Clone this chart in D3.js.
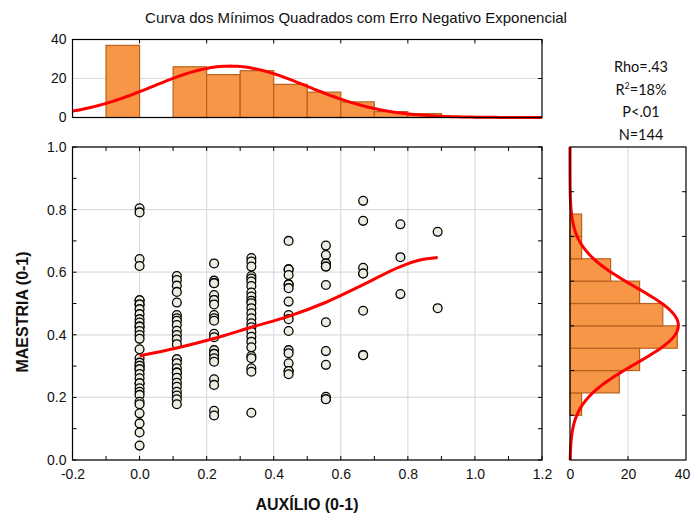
<!DOCTYPE html>
<html>
<head>
<meta charset="utf-8">
<script src="https://cdn.jsdelivr.net/npm/d3@7"></script>
<style>
  html, body { margin: 0; padding: 0; background: #fff; }
  svg { display: block; font-family: "Liberation Sans", Arial, sans-serif; }
</style>
</head>
<body>
<svg id="chart" width="696" height="515"></svg>
<script>
// AUXÍLIO values (x) are in ninths; each column lists the MAESTRIA values observed there.
const auxLevels = [0, 1/9, 2/9, 3/9, 4/9, 5/9, 6/9, 7/9, 8/9];
const maestriaByLevel = [
  [0.804, 0.791, 0.642, 0.620, 0.510, 0.510, 0.497, 0.497, 0.482, 0.466, 0.450, 0.439, 0.426, 0.426,
   0.412, 0.399, 0.387, 0.354, 0.325, 0.311, 0.301, 0.301, 0.290, 0.290, 0.275, 0.261, 0.245, 0.245,
   0.229, 0.218, 0.208, 0.186, 0.178, 0.149, 0.117, 0.088, 0.046],
  [0.588, 0.575, 0.557, 0.537, 0.503, 0.463, 0.453, 0.445, 0.431, 0.413, 0.399, 0.386, 0.370,
   0.322, 0.322, 0.309, 0.293, 0.279, 0.279, 0.263, 0.247, 0.234, 0.218, 0.206, 0.194, 0.178],
  [0.628, 0.573, 0.565, 0.565, 0.527, 0.511, 0.511, 0.497, 0.463, 0.453, 0.445, 0.403, 0.392,
   0.351, 0.339, 0.339, 0.325, 0.314, 0.258, 0.240, 0.157, 0.142],
  [0.645, 0.634, 0.618, 0.588, 0.580, 0.570, 0.556, 0.535, 0.522, 0.509, 0.501, 0.485, 0.469,
   0.453, 0.437, 0.424, 0.410, 0.394, 0.378, 0.360, 0.332, 0.325, 0.293, 0.282, 0.151],
  [0.700, 0.609, 0.609, 0.591, 0.561, 0.561, 0.549, 0.506, 0.463, 0.450, 0.412, 0.351, 0.341,
   0.309, 0.284, 0.284, 0.274],
  [0.685, 0.655, 0.628, 0.628, 0.618, 0.618, 0.559, 0.440, 0.348, 0.304, 0.202, 0.194, 0.194],
  [0.828, 0.764, 0.614, 0.596, 0.596, 0.477, 0.335, 0.335],
  [0.753, 0.648, 0.530],
  [0.729, 0.485]
];

// Negative-exponentially weighted least-squares smooth
const smoothX = [0, 0.111, 0.222, 0.333, 0.444, 0.556, 0.667, 0.778, 0.833, 0.889];
const smoothY = [0.333, 0.358, 0.388, 0.424, 0.459, 0.504, 0.560, 0.618, 0.638, 0.647];

// Marginal histogram of AUXÍLIO: bins of 0.1 starting at -0.1
const auxBinStart = -0.1;
const auxBinWidth = 0.1;
const auxCounts = [37, 0, 26, 22, 24, 17, 13, 8, 3, 2];
const auxFit = { mean: 0.27, sd: 0.23 };

// Marginal histogram of MAESTRIA: bins of 1/14 starting at 2/14
const maeBinStart = 2 / 14;
const maeBinWidth = 1 / 14;
const maeCounts = [4, 17, 24, 37, 32, 24, 14, 4, 4];
const maeFit = { mean: 0.43, sd: 0.122 };

const xTickLabels = ["-0.2", "0.0", "0.2", "0.4", "0.6", "0.8", "1.0", "1.2"];
const yTickLabels = ["0.0", "0.2", "0.4", "0.6", "0.8", "1.0"];
const topCountTicks = [0, 20, 40];
const sideCountTicks = [0, 20, 40];
const statsLines = ["Rho=.43", "R²=18%", "P<.01", "N=144"];
const titleText = "Curva dos Mínimos Quadrados com Erro Negativo Exponencial";
const xTitle = "AUXÍLIO (0-1)";
const yTitle = "MAESTRIA (0-1)";

const svg = d3.select("#chart");
const GRID = "#dcdcdc", BAR = "#f79646", BAR_EDGE = "#b9621f", RED = "#ff0000";

// Panels
const mainP = { l: 72.5, r: 542, t: 147, b: 460 };
const topP = { l: 72.5, r: 542, t: 39.5, b: 117.5 };
const sideP = { l: 570, r: 686, t: 147, b: 460 };

const x = d3.scaleLinear().domain([-0.2, 1.2]).range([mainP.l, mainP.r]);
const y = d3.scaleLinear().domain([0, 1]).range([mainP.b, mainP.t]);
const yTop = d3.scaleLinear().domain([0, 40]).range([topP.b, topP.t]);
const xSide = d3.scaleLinear().domain([0, 40]).range([sideP.l, sideP.r]);

function normalCurve(fit, counts, binWidth, v) {
  const n = d3.sum(counts);
  const z = (v - fit.mean) / fit.sd;
  return n * binWidth / (fit.sd * Math.sqrt(2 * Math.PI)) * Math.exp(-0.5 * z * z);
}

function styleLabels(g) {
  g.select(".domain").remove();
  g.selectAll("text").attr("font-size", 14).attr("fill", "#111")
    .attr("font-family", "Liberation Sans, Arial, sans-serif");
}

// ---------- main scatter panel ----------
const gMain = svg.append("g");
gMain.append("g").selectAll("line").data(xTickLabels.map(Number))
  .join("line").attr("x1", d => x(d)).attr("x2", d => x(d))
  .attr("y1", mainP.t).attr("y2", mainP.b).attr("stroke", GRID).attr("stroke-width", 1.2);
gMain.append("g").selectAll("line").data(yTickLabels.map(Number))
  .join("line").attr("y1", d => y(d)).attr("y2", d => y(d))
  .attr("x1", mainP.l).attr("x2", mainP.r).attr("stroke", GRID).attr("stroke-width", 1.2);

const minorX = d3.range(-0.2, 1.2001, 0.1);
const minorY = d3.range(0, 1.0001, 0.1);

// inward ticks on all four sides
const ticksMain = gMain.append("g").attr("stroke", "#000").attr("stroke-width", 1);
ticksMain.append("g").selectAll("line").data(minorX).join("line")
  .attr("x1", d => x(d)).attr("x2", d => x(d)).attr("y1", mainP.b).attr("y2", mainP.b - 4);
ticksMain.append("g").selectAll("line").data(minorX).join("line")
  .attr("x1", d => x(d)).attr("x2", d => x(d)).attr("y1", mainP.t).attr("y2", mainP.t + 4);
ticksMain.append("g").selectAll("line").data(minorY).join("line")
  .attr("y1", d => y(d)).attr("y2", d => y(d)).attr("x1", mainP.l).attr("x2", mainP.l + 4);
ticksMain.append("g").selectAll("line").data(minorY).join("line")
  .attr("y1", d => y(d)).attr("y2", d => y(d)).attr("x1", mainP.r).attr("x2", mainP.r - 4);

gMain.append("rect").attr("x", mainP.l).attr("y", mainP.t)
  .attr("width", mainP.r - mainP.l).attr("height", mainP.b - mainP.t)
  .attr("fill", "none").attr("stroke", "#000").attr("stroke-width", 1.2);

svg.append("g").attr("transform", `translate(0,${mainP.b})`)
  .call(d3.axisBottom(x).tickValues(xTickLabels.map(Number))
    .tickFormat((d, i) => xTickLabels[i]).tickSize(0).tickPadding(9))
  .call(styleLabels);
svg.append("g").attr("transform", `translate(${mainP.l},0)`)
  .call(d3.axisLeft(y).tickValues(yTickLabels.map(Number))
    .tickFormat((d, i) => yTickLabels[i]).tickSize(0).tickPadding(6))
  .call(styleLabels);

// points
const points = auxLevels.flatMap((a, i) => maestriaByLevel[i].map(m => ({ a, m })));
gMain.append("g").selectAll("circle").data(points).join("circle")
  .attr("cx", d => x(d.a)).attr("cy", d => y(d.m)).attr("r", 4.4)
  .attr("fill", "#eeece0").attr("stroke", "#000").attr("stroke-width", 1.3);

// smooth curve
gMain.append("path")
  .datum(smoothX.map((v, i) => [v, smoothY[i]]))
  .attr("d", d3.line().x(d => x(d[0])).y(d => y(d[1])).curve(d3.curveMonotoneX))
  .attr("fill", "none").attr("stroke", RED).attr("stroke-width", 3);

// ---------- top histogram ----------
const gTop = svg.append("g");
gTop.append("line").attr("x1", topP.l).attr("x2", topP.r)
  .attr("y1", yTop(20)).attr("y2", yTop(20)).attr("stroke", GRID).attr("stroke-width", 1.2);
gTop.append("g").selectAll("rect")
  .data(auxCounts.map((c, i) => ({ c, x0: auxBinStart + i * auxBinWidth })).filter(d => d.c > 0))
  .join("rect")
  .attr("x", d => x(d.x0)).attr("width", d => x(d.x0 + auxBinWidth) - x(d.x0))
  .attr("y", d => yTop(d.c)).attr("height", d => yTop(0) - yTop(d.c))
  .attr("fill", BAR).attr("stroke", BAR_EDGE).attr("stroke-width", 1.2);
const topCurve = d3.range(-0.2, 1.2001, 0.01).map(v => [v, normalCurve(auxFit, auxCounts, auxBinWidth, v)]);
gTop.append("path").datum(topCurve)
  .attr("d", d3.line().x(d => x(d[0])).y(d => yTop(d[1])))
  .attr("fill", "none").attr("stroke", RED).attr("stroke-width", 3);
const ticksTop = gTop.append("g").attr("stroke", "#000").attr("stroke-width", 1);
ticksTop.append("g").selectAll("line").data(xTickLabels.map(Number)).join("line")
  .attr("x1", d => x(d)).attr("x2", d => x(d)).attr("y1", topP.t).attr("y2", topP.t + 4);
ticksTop.append("g").selectAll("line").data(topCountTicks).join("line")
  .attr("x1", topP.r).attr("x2", topP.r - 4).attr("y1", d => yTop(d)).attr("y2", d => yTop(d));
gTop.append("rect").attr("x", topP.l).attr("y", topP.t)
  .attr("width", topP.r - topP.l).attr("height", topP.b - topP.t)
  .attr("fill", "none").attr("stroke", "#000").attr("stroke-width", 1.2);
svg.append("g").attr("transform", `translate(${topP.l},0)`)
  .call(d3.axisLeft(yTop).tickValues(topCountTicks).tickSize(0).tickPadding(6))
  .call(styleLabels);

// ---------- side histogram ----------
const gSide = svg.append("g");
gSide.append("line").attr("x1", xSide(20)).attr("x2", xSide(20))
  .attr("y1", sideP.t).attr("y2", sideP.b).attr("stroke", GRID).attr("stroke-width", 1.2);
gSide.append("g").selectAll("rect")
  .data(maeCounts.map((c, i) => ({ c, y0: maeBinStart + i * maeBinWidth })).filter(d => d.c > 0))
  .join("rect")
  .attr("x", xSide(0)).attr("width", d => xSide(d.c) - xSide(0))
  .attr("y", d => y(d.y0 + maeBinWidth)).attr("height", d => y(d.y0) - y(d.y0 + maeBinWidth))
  .attr("fill", BAR).attr("stroke", BAR_EDGE).attr("stroke-width", 1.2);
const sideCurve = d3.range(0, 1.0001, 0.005).map(v => [v, normalCurve(maeFit, maeCounts, maeBinWidth, v)]);
gSide.append("path").datum(sideCurve)
  .attr("d", d3.line().x(d => xSide(d[1])).y(d => y(d[0])))
  .attr("fill", "none").attr("stroke", RED).attr("stroke-width", 3);
const sevenths = d3.range(1, 7).map(k => k / 7);
const ticksSide = gSide.append("g").attr("stroke", "#000").attr("stroke-width", 1);
ticksSide.append("g").selectAll("line").data(sevenths).join("line")
  .attr("x1", sideP.l).attr("x2", sideP.l + 4).attr("y1", d => y(d)).attr("y2", d => y(d));
ticksSide.append("g").selectAll("line").data(sevenths).join("line")
  .attr("x1", sideP.r).attr("x2", sideP.r - 4).attr("y1", d => y(d)).attr("y2", d => y(d));
ticksSide.append("g").selectAll("line").data([20]).join("line")
  .attr("x1", d => xSide(d)).attr("x2", d => xSide(d)).attr("y1", sideP.b).attr("y2", sideP.b - 4);
gSide.append("rect").attr("x", sideP.l).attr("y", sideP.t)
  .attr("width", sideP.r - sideP.l).attr("height", sideP.b - sideP.t)
  .attr("fill", "none").attr("stroke", "#000").attr("stroke-width", 1.2);
svg.append("g").attr("transform", `translate(0,${sideP.b})`)
  .call(d3.axisBottom(xSide).tickValues(sideCountTicks).tickSize(0).tickPadding(9))
  .call(styleLabels)
  .selectAll("text").attr("dx", d => d === 40 ? -4 : 0);

// ---------- texts ----------
svg.append("text").attr("x", 356).attr("y", 23).attr("text-anchor", "middle")
  .attr("font-size", 15).attr("fill", "#111").text(titleText);

const stats = svg.append("text").attr("text-anchor", "middle")
  .attr("font-family", "Lato, 'Open Sans', sans-serif").attr("font-size", 14.5).attr("fill", "#111");
statsLines.forEach((s, i) => {
  const t = stats.append("tspan").attr("x", 641).attr("y", 72 + i * 22.5);
  if (s.startsWith("R²")) {
    t.text("R");
    t.append("tspan").attr("font-size", 9).attr("dy", -6).text("2");
    t.append("tspan").attr("dy", 6).text(s.slice(2));
  } else {
    t.text(s);
  }
});

svg.append("text").attr("x", 307).attr("y", 510).attr("text-anchor", "middle")
  .attr("font-size", 16).attr("font-weight", "bold").attr("fill", "#111").text(xTitle);
svg.append("text").attr("transform", "translate(28,312) rotate(-90)").attr("text-anchor", "middle")
  .attr("font-size", 16).attr("font-weight", "bold").attr("fill", "#111").text(yTitle);
</script>
</body>
</html>
